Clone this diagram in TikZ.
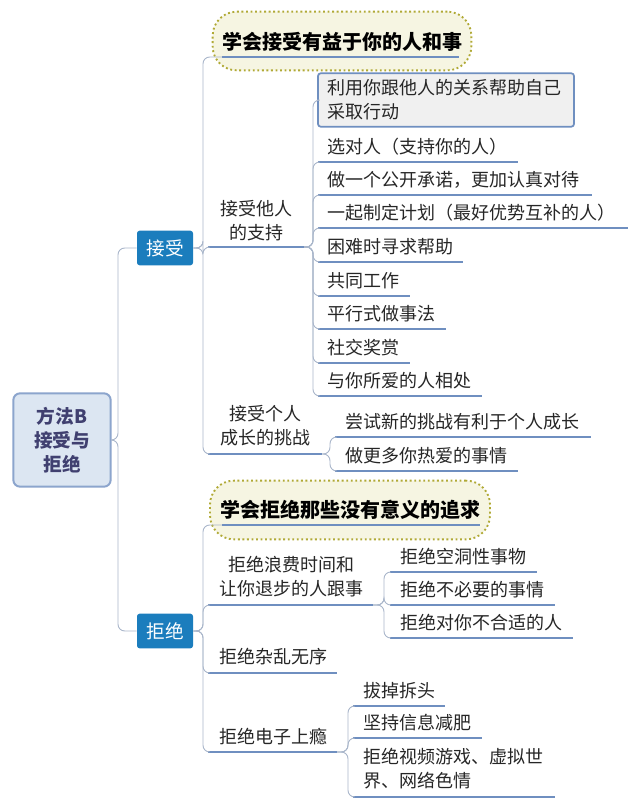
\documentclass[tikz,border=0pt]{standalone}
\usepackage{fontspec}
\setmainfont{Noto Sans CJK SC}
\usetikzlibrary{shapes.symbols}
\definecolor{ul}{HTML}{6F8FC0}
\definecolor{cn}{HTML}{A9B6CA}
\definecolor{topic}{HTML}{1B7DBD}
\definecolor{rootfill}{HTML}{DCE6F2}
\begin{document}
\begin{tikzpicture}[x=0.75pt,y=-0.75pt,
  txt/.style={anchor=west,inner sep=0pt,font=\fontsize{13.5pt}{18pt}\selectfont,text=black!85},
  ctxt/.style={align=center,inner sep=0pt,font=\fontsize{13.5pt}{18pt}\selectfont,text=black!85},
  uline/.style={draw=ul,line width=1.4pt},
  conn/.style={draw=cn,line width=0.7pt,rounded corners=5pt},
  topicbox/.style={fill=topic,rounded corners=2pt,text=white,minimum width=42pt,minimum height=26pt,font=\fontsize{14pt}{16pt}\selectfont},
  callout/.style={draw=olive!70,dotted,line width=1.4pt,fill=olive!8,rounded corners=18pt,inner sep=0pt},
  ctext/.style={inner sep=0pt,font=\fontsize{15pt}{18pt}\selectfont\bfseries,text=black}]
\useasboundingbox (0,0) rectangle (640,809);
% root
\node[draw=ul!80,line width=1.5pt,fill=rootfill,rounded corners=5pt,minimum width=73pt,minimum height=70pt,align=center,font=\fontsize{14pt}{18pt}\selectfont\bfseries,text=blue!25!black!75] (root) at (62,440) {方法B\\接受与\\拒绝};
\node[topicbox] (acc) at (165,248) {接受};
\node[topicbox] (rej) at (165,631) {拒绝};
\draw[conn] (root.east) -- (118,440) |- (acc.west);
\draw[conn] (root.east) -- (118,440) |- (rej.west);
% callouts
\node[callout,minimum width=194pt,minimum height=44pt] (c1) at (342,41) {};
\node[ctext] (c1t) at (342,42) {学会接受有益于你的人和事};
\draw[uline] (222,57) -- (459,57);
\node[callout,minimum width=210pt,minimum height=44pt] (c2) at (350,510) {};
\node[ctext] (c2t) at (350,510) {学会拒绝那些没有意义的追求};
\draw[uline] (222,525) -- (480,525);
% accept branch
\coordinate (a0) at (acc.east);
\node[ctxt] (s1) at (256,221) {接受他人\\的支持};
\draw[uline] (208,247) -- (304,247);
\node[ctxt] (s2) at (265,426) {接受个人\\成长的挑战};
\draw[uline] (208,454) -- (322,454);
\draw[conn] (a0) -- (203,248) |- (222,57);
\draw[conn] (a0) -- (203,248) |- (208,247);
\draw[conn] (a0) -- (203,248) |- (208,454);
% children of s1
\node[draw=ul,line width=1.3pt,fill=black!6,rounded corners=2pt,minimum width=192pt,minimum height=40pt] (b0) at (446,100) {};
\node[txt,align=left] (b0t) at (327,100) {利用你跟他人的关系帮助自己\\采取行动};
\coordinate (p1) at (304,247);
\draw[conn] (p1) -- (313,247) |- (b0.west);
\foreach \t/\y/\e [count=\i] in {选对人（支持你的人）/147/518,做一个公开承诺，更加认真对待/180/592,一起制定计划（最好优势互补的人）/213/628,困难时寻求帮助/247/463,共同工作/281/410,平行式做事法/314/446,社交奖赏/348/410,与你所爱的人相处/381/482}{
  \node[txt] (k\i) at (327,\y) {\t};
  \draw[uline] (318,\y+15) -- (\e,\y+15);
  \draw[conn] (p1) -- (313,247) |- (318,\y+15);
}
% children of s2
\coordinate (p2) at (322,454);
\foreach \t/\y/\e [count=\i] in {尝试新的挑战有利于个人成长/422/591,做更多你热爱的事情/456/518}{
  \node[txt] (g\i) at (345,\y) {\t};
  \draw[uline] (335,\y+15) -- (\e,\y+15);
  \draw[conn] (p2) -- (330,454) |- (335,\y+15);
}
% reject branch
\coordinate (r0) at (rej.east);
\node[ctxt] (t1) at (291,577) {拒绝浪费时间和\\让你退步的人跟事};
\draw[uline] (208,605) -- (373,605);
\node[txt] (t2) at (219,657) {拒绝杂乱无序};
\draw[uline] (208,673) -- (337,673);
\node[txt] (t3) at (219,737) {拒绝电子上瘾};
\draw[uline] (208,752) -- (337,752);
\draw[conn] (r0) -- (203,631) |- (222,525);
\draw[conn] (r0) -- (203,631) |- (208,605);
\draw[conn] (r0) -- (203,631) |- (208,673);
\draw[conn] (r0) -- (203,631) |- (208,752);
\coordinate (p3) at (373,605);
\foreach \t/\y/\e [count=\i] in {拒绝空洞性事物/557/537,拒绝不必要的事情/590/555,拒绝对你不合适的人/623/573}{
  \node[txt] (h\i) at (400,\y) {\t};
  \draw[uline] (390,\y+15) -- (\e,\y+15);
  \draw[conn] (p3) -- (384,605) |- (390,\y+15);
}
\coordinate (p4) at (337,752);
\foreach \t/\y/\e [count=\i] in {拔掉拆头/691/445,坚持信息减肥/723/482}{
  \node[txt] (m\i) at (363,\y) {\t};
  \draw[uline] (353,\y+15) -- (\e,\y+15);
  \draw[conn] (p4) -- (348,752) |- (353,\y+15);
}
\node[txt,align=left] (m3) at (363,769) {拒绝视频游戏、虚拟世\\界、网络色情};
\draw[uline] (353,797) -- (555,797);
\draw[conn] (p4) -- (348,752) |- (353,797);
\end{tikzpicture}
\end{document}
